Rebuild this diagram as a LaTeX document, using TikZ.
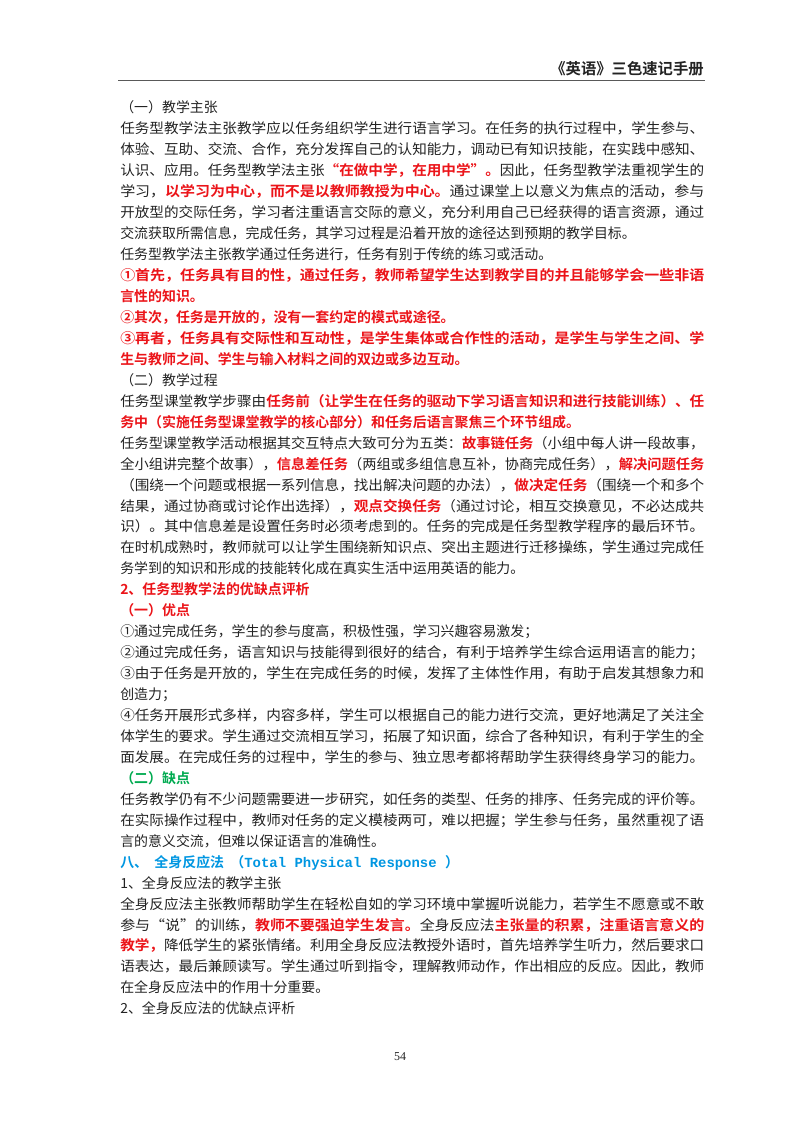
\documentclass[tikz,border=0pt]{standalone}
\usepackage{graphicx}
\usepackage{fontspec}
\setmainfont{Noto Sans CJK SC}[BoldFont={Noto Sans CJK SC Bold}]
\newfontfamily\mono{Liberation Mono}
\newfontfamily\lat{Liberation Serif}
\definecolor{txt}{RGB}{35,35,35}
\definecolor{rd}{RGB}{235,20,25}
\definecolor{gr}{RGB}{0,170,80}
\definecolor{bl}{RGB}{0,150,225}
\newcommand{\R}[1]{{\color{rd}\bfseries #1}}
\newcommand{\J}[1]{\resizebox{438pt}{\height}{#1}}
\newcommand{\Ln}[2]{\node[ln] (l#1) at (90pt,{764.25pt-15.7125pt*(#1-1)}) {#2};}
\begin{document}
\begin{tikzpicture}[x=1pt,y=1pt,
  ln/.style={anchor=base west,inner sep=0pt,font=\fontsize{10.45}{12}\selectfont,text=txt}]
\useasboundingbox (0,0) rectangle (600,849);
\node[anchor=base east,inner sep=0pt,font=\fontsize{11.5}{13}\selectfont\bfseries,text=txt] (hd) at (528,793) {《英语》三色速记手册};
\draw[line width=1.1pt,gray!70!black] (88.5,788.5) -- (529,788.5);
\Ln{1}{（一）教学主张}
\Ln{2}{\J{任务型教学法主张教学应以任务组织学生进行语言学习。在任务的执行过程中，学生参与、}}
\Ln{3}{\J{体验、互助、交流、合作，充分发挥自己的认知能力，调动已有知识技能，在实践中感知、}}
\Ln{4}{\J{认识、应用。任务型教学法主张\R{“在做中学，在用中学”。}因此，任务型教学法重视学生的}}
\Ln{5}{\J{学习，\R{以学习为中心，而不是以教师教授为中心。}通过课堂上以意义为焦点的活动，参与}}
\Ln{6}{\J{开放型的交际任务，学习者注重语言交际的意义，充分利用自己已经获得的语言资源，通过}}
\Ln{7}{交流获取所需信息，完成任务，其学习过程是沿着开放的途径达到预期的教学目标。}
\Ln{8}{任务型教学法主张教学通过任务进行，任务有别于传统的练习或活动。}
\Ln{9}{\J{\R{①首先，任务具有目的性，通过任务，教师希望学生达到教学目的并且能够学会一些非语}}}
\Ln{10}{\R{言性的知识。}}
\Ln{11}{\R{②其次，任务是开放的，没有一套约定的模式或途径。}}
\Ln{12}{\J{\R{③再者，任务具有交际性和互动性，是学生集体或合作性的活动，是学生与学生之间、学}}}
\Ln{13}{\R{生与教师之间、学生与输入材料之间的双边或多边互动。}}
\Ln{14}{（二）教学过程}
\Ln{15}{\J{任务型课堂教学步骤由\R{任务前（让学生在任务的驱动下学习语言知识和进行技能训练）、任}}}
\Ln{16}{\R{务中（实施任务型课堂教学的核心部分）和任务后语言聚焦三个环节组成。}}
\Ln{17}{\J{任务型课堂教学活动根据其交互特点大致可分为五类：\R{故事链任务}（小组中每人讲一段故事，}}
\Ln{18}{\J{全小组讲完整个故事），\R{信息差任务}（两组或多组信息互补，协商完成任务），\R{解决问题任务}}}
\Ln{19}{\J{（围绕一个问题或根据一系列信息，找出解决问题的办法），\R{做决定任务}（围绕一个和多个}}
\Ln{20}{\J{结果，通过协商或讨论作出选择），\R{观点交换任务}（通过讨论，相互交换意见，不必达成共}}
\Ln{21}{\J{识）。其中信息差是设置任务时必须考虑到的。任务的完成是任务型教学程序的最后环节。}}
\Ln{22}{\J{在时机成熟时，教师就可以让学生围绕新知识点、突出主题进行迁移操练，学生通过完成任}}
\Ln{23}{务学到的知识和形成的技能转化成在真实生活中运用英语的能力。}
\Ln{24}{\R{2、任务型教学法的优缺点评析}}
\Ln{25}{\R{（一）优点}}
\Ln{26}{①通过完成任务，学生的参与度高，积极性强，学习兴趣容易激发；}
\Ln{27}{\J{②通过完成任务，语言知识与技能得到很好的结合，有利于培养学生综合运用语言的能力；}}
\Ln{28}{\J{③由于任务是开放的，学生在完成任务的时候，发挥了主体性作用，有助于启发其想象力和}}
\Ln{29}{创造力；}
\Ln{30}{\J{④任务开展形式多样，内容多样，学生可以根据自己的能力进行交流，更好地满足了关注全}}
\Ln{31}{\J{体学生的要求。学生通过交流相互学习，拓展了知识面，综合了各种知识，有利于学生的全}}
\Ln{32}{\J{面发展。在完成任务的过程中，学生的参与、独立思考都将帮助学生获得终身学习的能力。}}
\Ln{33}{{\color{gr}\bfseries （二）缺点}}
\Ln{34}{\J{任务教学仍有不少问题需要进一步研究，如任务的类型、任务的排序、任务完成的评价等。}}
\Ln{35}{\J{在实际操作过程中，教师对任务的定义模棱两可，难以把握；学生参与任务，虽然重视了语}}
\Ln{36}{言的意义交流，但难以保证语言的准确性。}
\Ln{37}{{\color{bl}\bfseries 八、\ \ 全身反应法\ \ （{\mono\bfseries Total Physical Response }）}}
\Ln{38}{1、全身反应法的教学主张}
\Ln{39}{\J{全身反应法主张教师帮助学生在轻松自如的学习环境中掌握听说能力，若学生不愿意或不敢}}
\Ln{40}{\J{参与“说”的训练，\R{教师不要强迫学生发言。}全身反应法\R{主张量的积累，注重语言意义的}}}
\Ln{41}{\J{\R{教学，}降低学生的紧张情绪。利用全身反应法教授外语时，首先培养学生听力，然后要求口}}
\Ln{42}{\J{语表达，最后兼顾读写。学生通过听到指令，理解教师动作，作出相应的反应。因此，教师}}
\Ln{43}{在全身反应法中的作用十分重要。}
\Ln{44}{2、全身反应法的优缺点评析}
\node[anchor=base,inner sep=0pt,font=\lat\fontsize{9}{10}\selectfont,text=txt] (pn) at (300,53.5) {54};
\end{tikzpicture}
\end{document}
